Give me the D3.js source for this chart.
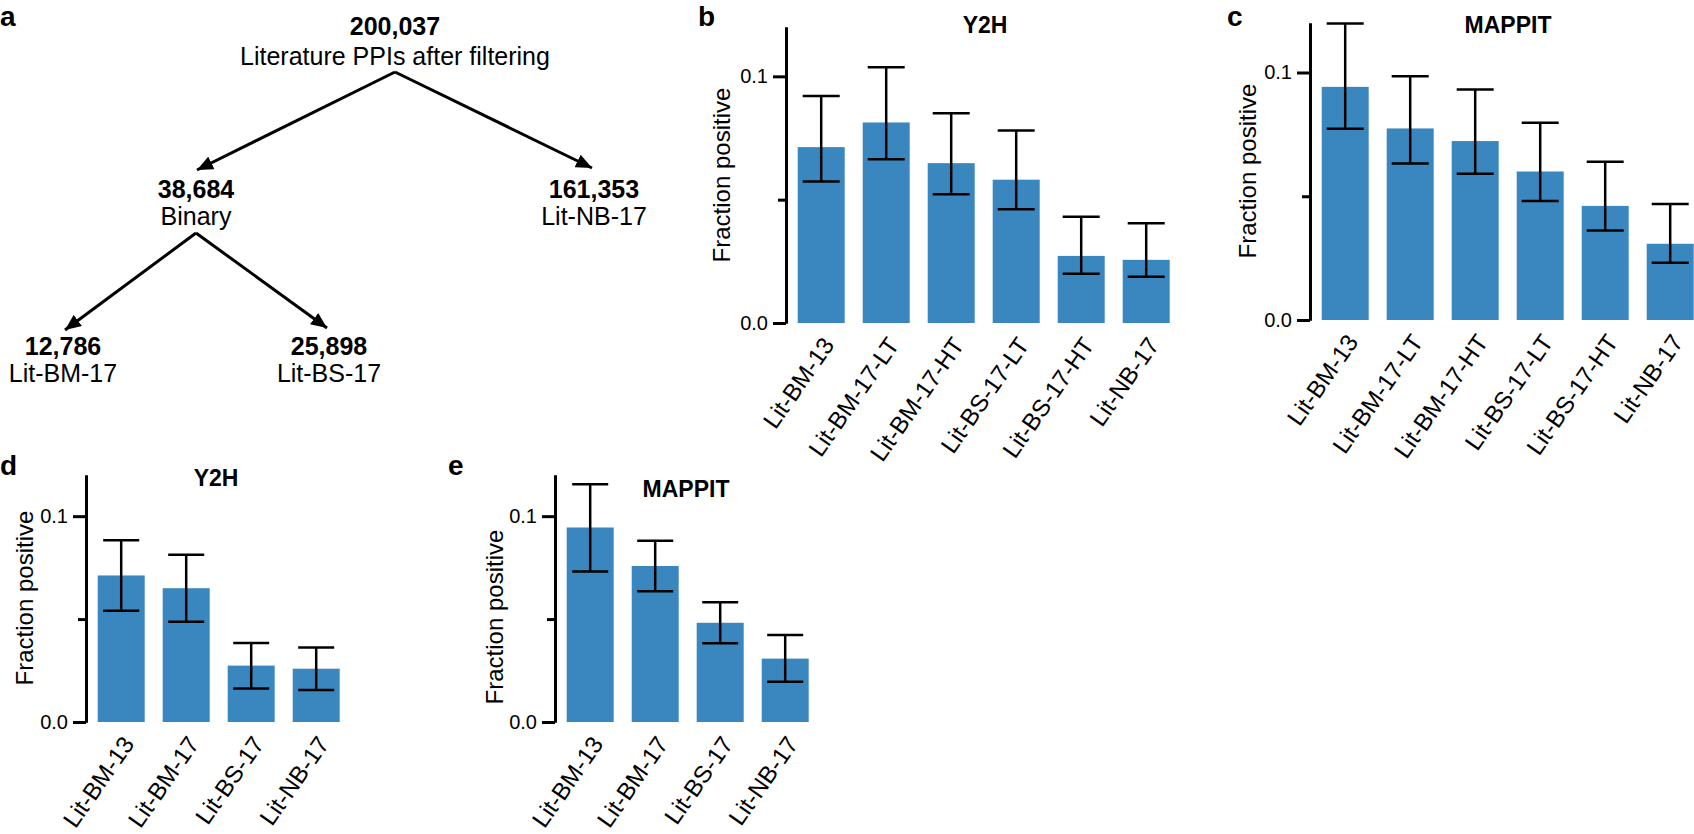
<!DOCTYPE html>
<html>
<head>
<meta charset="utf-8">
<script src="https://cdn.jsdelivr.net/npm/d3@7"></script>
<style>
  body { margin: 0; background: #fff; }
  svg { display: block; font-family: "Liberation Sans", Arial, Helvetica, sans-serif; }
  .axis path, .axis line { stroke: #000; stroke-width: 3; }
  .axis text { fill: #000; }
</style>
</head>
<body>
<svg width="1694" height="834"></svg>
<script>
    // panel a: the filtering tree
    var treeCounts = ["200,037", "38,684", "161,353", "12,786", "25,898"];
    var treeNames = ["Literature PPIs after filtering", "Binary", "Lit-NB-17", "Lit-BM-17", "Lit-BS-17"];
    var treeEdges = [[0, 1], [0, 2], [1, 3], [1, 4]];

    // panels b, c: all literature subsets
    var subsetsFull = ["Lit-BM-13", "Lit-BM-17-LT", "Lit-BM-17-HT", "Lit-BS-17-LT", "Lit-BS-17-HT", "Lit-NB-17"];
    var y2hFull = [0.0713, 0.0813, 0.0648, 0.0581, 0.0272, 0.0256];
    var y2hFullLo = [0.0574, 0.0664, 0.0522, 0.0461, 0.0200, 0.0188];
    var y2hFullHi = [0.0920, 0.1037, 0.0850, 0.0780, 0.0431, 0.0404];
    var mappitFull = [0.0942, 0.0774, 0.0723, 0.0600, 0.0461, 0.0308];
    var mappitFullLo = [0.0773, 0.0632, 0.0591, 0.0481, 0.0362, 0.0231];
    var mappitFullHi = [0.1198, 0.0985, 0.0931, 0.0797, 0.0639, 0.0469];

    // panels d, e: merged subsets
    var subsets = ["Lit-BM-13", "Lit-BM-17", "Lit-BS-17", "Lit-NB-17"];
    var y2h = [0.0712, 0.0650, 0.0274, 0.0259];
    var y2hLo = [0.0541, 0.0487, 0.0163, 0.0155];
    var y2hHi = [0.0883, 0.0813, 0.0384, 0.0362];
    var mappit = [0.0945, 0.0758, 0.0482, 0.0308];
    var mappitLo = [0.0731, 0.0635, 0.0383, 0.0196];
    var mappitHi = [0.1155, 0.0880, 0.0582, 0.0423];

    var yTicks = [0, 0.1];
    var yMinorTicks = [0.05];
    var yMax = 0.12;

    var barColor = "#3a87bf";
    var svg = d3.select("svg");

    // node layout for the tree (center x, baseline of the count)
    var nodePos = [[395, 35], [196, 198], [594, 198], [63, 355], [329, 355]];
    var edgeEnds = [[[395, 72], [197, 170]], [[395, 72], [592, 168]],
                    [[196, 233], [65, 330]], [[196, 233], [327, 328]]];

    svg.append("defs").append("marker")
        .attr("id", "arrow")
        .attr("viewBox", "0 0 16 14")
        .attr("refX", 16).attr("refY", 7)
        .attr("markerWidth", 16).attr("markerHeight", 14)
        .attr("markerUnits", "userSpaceOnUse")
        .attr("orient", "auto")
        .append("path")
        .attr("d", "M0,0L16,7L0,14Z")
        .attr("fill", "#000");

    var tree = svg.append("g");
    tree.selectAll("line").data(treeEdges).enter().append("line")
        .attr("x1", function(d, i) { return edgeEnds[i][0][0]; })
        .attr("y1", function(d, i) { return edgeEnds[i][0][1]; })
        .attr("x2", function(d, i) { return edgeEnds[i][1][0]; })
        .attr("y2", function(d, i) { return edgeEnds[i][1][1]; })
        .attr("stroke", "#000")
        .attr("stroke-width", 3)
        .attr("marker-end", "url(#arrow)");
    tree.selectAll("text.count").data(treeCounts).enter().append("text")
        .attr("class", "count")
        .attr("x", function(d, i) { return nodePos[i][0]; })
        .attr("y", function(d, i) { return nodePos[i][1]; })
        .attr("text-anchor", "middle")
        .attr("font-weight", "bold")
        .attr("font-size", 25)
        .text(function(d) { return d; });
    tree.selectAll("text.name").data(treeNames).enter().append("text")
        .attr("class", "name")
        .attr("x", function(d, i) { return nodePos[i][0]; })
        .attr("y", function(d, i) { return nodePos[i][1] + (i == 0 ? 30 : 27); })
        .attr("text-anchor", "middle")
        .attr("font-size", 25)
        .text(function(d) { return d; });

    function barPanel(opt) {
        var g = svg.append("g");
        var n = opt.cats.length;
        var step = 65;
        var x = d3.scaleBand()
            .domain(opt.cats)
            .range([opt.x0, opt.x0 + step * (n - 0.277 + 0.36)])
            .paddingInner(0.277)
            .paddingOuter(0.18);
        var y = d3.scaleLinear().domain([0, yMax]).range([opt.yBottom, opt.yTop]);
        var bw = x.bandwidth();
        var cap = opt.cap;

        g.selectAll("rect").data(opt.values).enter().append("rect")
            .attr("x", function(d, i) { return x(opt.cats[i]); })
            .attr("y", function(d) { return y(d); })
            .attr("width", bw)
            .attr("height", function(d) { return y(0) - y(d); })
            .attr("fill", barColor);

        var err = g.selectAll("g.err").data(opt.values).enter().append("g")
            .attr("class", "err")
            .attr("stroke", "#000")
            .attr("stroke-width", 2.5);
        err.append("line")
            .attr("x1", function(d, i) { return x(opt.cats[i]) + bw / 2; })
            .attr("x2", function(d, i) { return x(opt.cats[i]) + bw / 2; })
            .attr("y1", function(d, i) { return y(opt.lo[i]); })
            .attr("y2", function(d, i) { return y(opt.hi[i]); });
        err.append("line")
            .attr("x1", function(d, i) { return x(opt.cats[i]) + bw / 2 - cap / 2; })
            .attr("x2", function(d, i) { return x(opt.cats[i]) + bw / 2 + cap / 2; })
            .attr("y1", function(d, i) { return y(opt.lo[i]); })
            .attr("y2", function(d, i) { return y(opt.lo[i]); });
        err.append("line")
            .attr("x1", function(d, i) { return x(opt.cats[i]) + bw / 2 - cap / 2; })
            .attr("x2", function(d, i) { return x(opt.cats[i]) + bw / 2 + cap / 2; })
            .attr("y1", function(d, i) { return y(opt.hi[i]); })
            .attr("y2", function(d, i) { return y(opt.hi[i]); });

        // y axis: labelled ticks + a shorter unlabelled one
        g.append("g").attr("class", "axis")
            .attr("transform", "translate(" + opt.x0 + ",0)")
            .call(d3.axisLeft(y).tickValues(yMinorTicks).tickSize(8).tickSizeOuter(0).tickFormat(""));
        var ya = g.append("g").attr("class", "axis")
            .attr("transform", "translate(" + opt.x0 + ",0)")
            .call(d3.axisLeft(y).tickValues(yTicks).tickSize(13).tickSizeOuter(0)
                .tickPadding(5).tickFormat(d3.format(".1f")));
        ya.selectAll("text").attr("font-size", 20).attr("font-family", null);

        // x axis labels, rotated
        var xa = g.append("g").attr("class", "axis")
            .attr("transform", "translate(0," + opt.yBottom + ")")
            .call(d3.axisBottom(x).tickSize(0));
        xa.select(".domain").remove();
        xa.selectAll("text")
            .attr("font-size", 24)
            .attr("font-family", null)
            .attr("x", 0).attr("y", 0).attr("dy", null)
            .attr("transform", "translate(14,22) rotate(-55)")
            .style("text-anchor", "end");

        g.append("text")
            .attr("transform", "translate(" + opt.ytX + "," + opt.ytY + ") rotate(-90)")
            .attr("text-anchor", "middle")
            .attr("font-size", 24)
            .text("Fraction positive");

        g.append("text")
            .attr("x", opt.titleX).attr("y", opt.titleY)
            .attr("text-anchor", "middle")
            .attr("font-weight", "bold")
            .attr("font-size", 23)
            .text(opt.title);
    }

    barPanel({ cats: subsetsFull, values: y2hFull, lo: y2hFullLo, hi: y2hFullHi, title: "Y2H",
        x0: 786, yTop: 27, yBottom: 323, cap: 37, ytX: 730, ytY: 175, titleX: 985, titleY: 33 });
    barPanel({ cats: subsetsFull, values: mappitFull, lo: mappitFullLo, hi: mappitFullHi, title: "MAPPIT",
        x0: 1310, yTop: 23, yBottom: 320, cap: 37, ytX: 1256, ytY: 171, titleX: 1508, titleY: 33 });
    barPanel({ cats: subsets, values: y2h, lo: y2hLo, hi: y2hHi, title: "Y2H",
        x0: 86, yTop: 475, yBottom: 722, cap: 36, ytX: 33, ytY: 598, titleX: 216, titleY: 486 });
    barPanel({ cats: subsets, values: mappit, lo: mappitLo, hi: mappitHi, title: "MAPPIT",
        x0: 555, yTop: 475, yBottom: 722, cap: 36, ytX: 503, ytY: 617, titleX: 686, titleY: 497 });

    // panel letters
    var letters = ["a", "b", "c", "d", "e"];
    var letterPos = [[0, 26], [698, 26], [1227, 26], [0, 475], [448, 475]];
    svg.selectAll("text.letter").data(letters).enter().append("text")
        .attr("class", "letter")
        .attr("x", function(d, i) { return letterPos[i][0]; })
        .attr("y", function(d, i) { return letterPos[i][1]; })
        .attr("font-weight", "bold")
        .attr("font-size", 28)
        .text(function(d) { return d; });
</script>
</body>
</html>
